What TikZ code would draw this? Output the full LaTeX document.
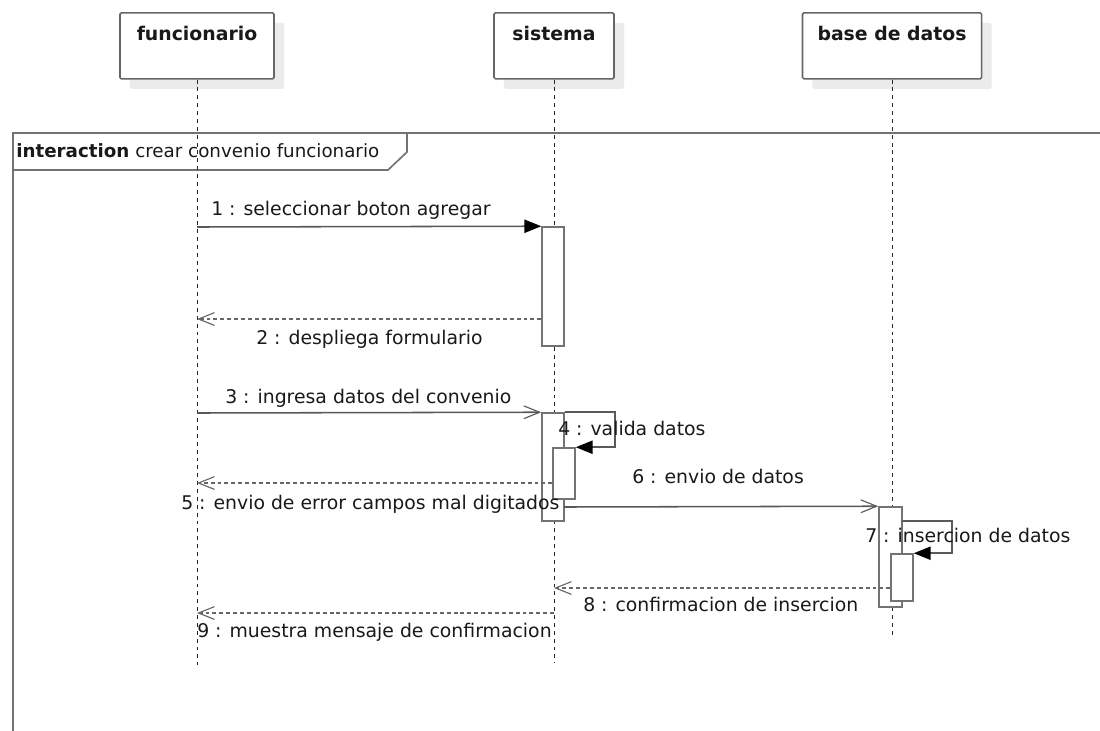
\documentclass[tikz,border=0pt]{standalone}
\usepackage{fontspec}
\setmainfont{DejaVu Sans}
\usetikzlibrary{positioning,fit,arrows.meta,shadows}

\begin{document}
\begin{tikzpicture}[x=0.025cm,y=-0.025cm,
  every node/.style={inner sep=0pt, font=\fontsize{13.4}{16}\selectfont, text=black!90},
  head/.style={draw=black!60, line width=1.1pt, rounded corners=1pt, fill=white,
    drop shadow={shadow xshift=0.25cm, shadow yshift=-0.25cm, fill=black!8, opacity=1},
    minimum height=1.65cm, anchor=north},
  title/.style={font=\fontsize{13.4}{16}\selectfont\bfseries, anchor=base},
  life/.style={black!85, line width=0.7pt, dash pattern=on 2.8pt off 2.8pt},
  act/.style={draw=black!55, line width=1.1pt, fill=white},
  frm/.style={draw=black!55, line width=1.2pt},
  sync/.style={black!65, line width=1.1pt, -{Triangle[length=0.42cm, width=0.33cm, color=black]}},
  call/.style={black!65, line width=1.1pt, -{Straight Barb[length=0.4cm, width=0.32cm, line width=0.8pt]}},
  reply/.style={black!60, line width=1.1pt, dash pattern=on 2.8pt off 2.1pt,
    -{Straight Barb[length=0.4cm, width=0.32cm, line width=0.8pt]}},
  msglbl/.style={anchor=base west}]
\useasboundingbox (0,0) rectangle (1100,731);

% frame
\draw[frm] (13,760) -- (13,133) -- (1120,133);
\draw[frm] (13,133) -- (407,133) -- (407,152) -- (388,170) -- (13,170);
\node[anchor=base west, font=\fontsize{13}{16}\selectfont] (frmlbl) at (16,157) {\textbf{interaction} crear convenio funcionario};

% heads
\node[head, minimum width=3.85cm] (fun) at (197,12) {};
\node[head, minimum width=3.0cm] (sis) at (554,12) {};
\node[head, minimum width=4.475cm] (bd) at (892,12) {};
\node[title] (funT) at (197,40) {funcionario};
\node[title] (sisT) at (554,40) {sistema};
\node[title] (bdT) at (892,40) {base de datos};

% lifelines
\coordinate (funE) at (197,665);
\coordinate (sisE) at (554,663);
\coordinate (bdE) at (892,635);
\draw[life] (fun) -- (funE);
\draw[life] (sis) -- (sisE);
\draw[life] (bd) -- (bdE);

% activations
\node[act, fit={(542,227) (564,346)}] (a1) {};
\node[act, fit={(542,413) (564,521)}] (a2) {};
\node[act, fit={(553,448) (575,499)}] (a2n) {};
\node[act, fit={(879,507) (902,607)}] (a3) {};
\node[act, fit={(891,554) (913,601)}] (a3n) {};

% points on lifelines
\coordinate (f1) at (197,227);
\coordinate (f2) at (197,319);
\coordinate (f3) at (197,413);
\coordinate (f5) at (197,483);
\coordinate (s6) at (564,507);
\coordinate (b7) at (902,521);
\coordinate (s8) at (554,588);
\coordinate (s9) at (554,613);
\coordinate (f9) at (197,613);

% messages
\draw[sync] (f1) -- (a1.north west);
\node[msglbl] (m1) at (211,215) {1 : seleccionar boton agregar};
\draw[reply] (f2 -| a1.west) -- (f2);
\node[msglbl] (m2) at (256,344) {2 : despliega formulario};
\draw[call] (f3) -- (a2.north west);
\node[msglbl] (m3) at (225,403) {3 : ingresa datos del convenio};
\draw[sync] (a2.north east) -- ++(50,0) |- (a2n.north east);
\node[msglbl] (m4) at (558,435) {4 : valida datos};
\draw[reply] (f5 -| a2n.west) -- (f5);
\node[msglbl] (m5) at (181,509) {5 : envio de error campos mal digitados};
\draw[call] (s6) -- (a3.north west);
\node[msglbl] (m6) at (632,483) {6 : envio de datos};
\draw[sync] (b7) -- ++(50,0) |- (a3n.north east);
\node[msglbl] (m7) at (865,542) {7 : insercion de datos};
\draw[reply] (s8 -| a3n.west) -- (s8);
\node[msglbl] (m8) at (583,611) {8 : confirmacion de insercion};
\draw[reply] (s9) -- (f9);
\node[msglbl] (m9) at (197,637) {9 : muestra mensaje de confirmacion};
\end{tikzpicture}
\end{document}
